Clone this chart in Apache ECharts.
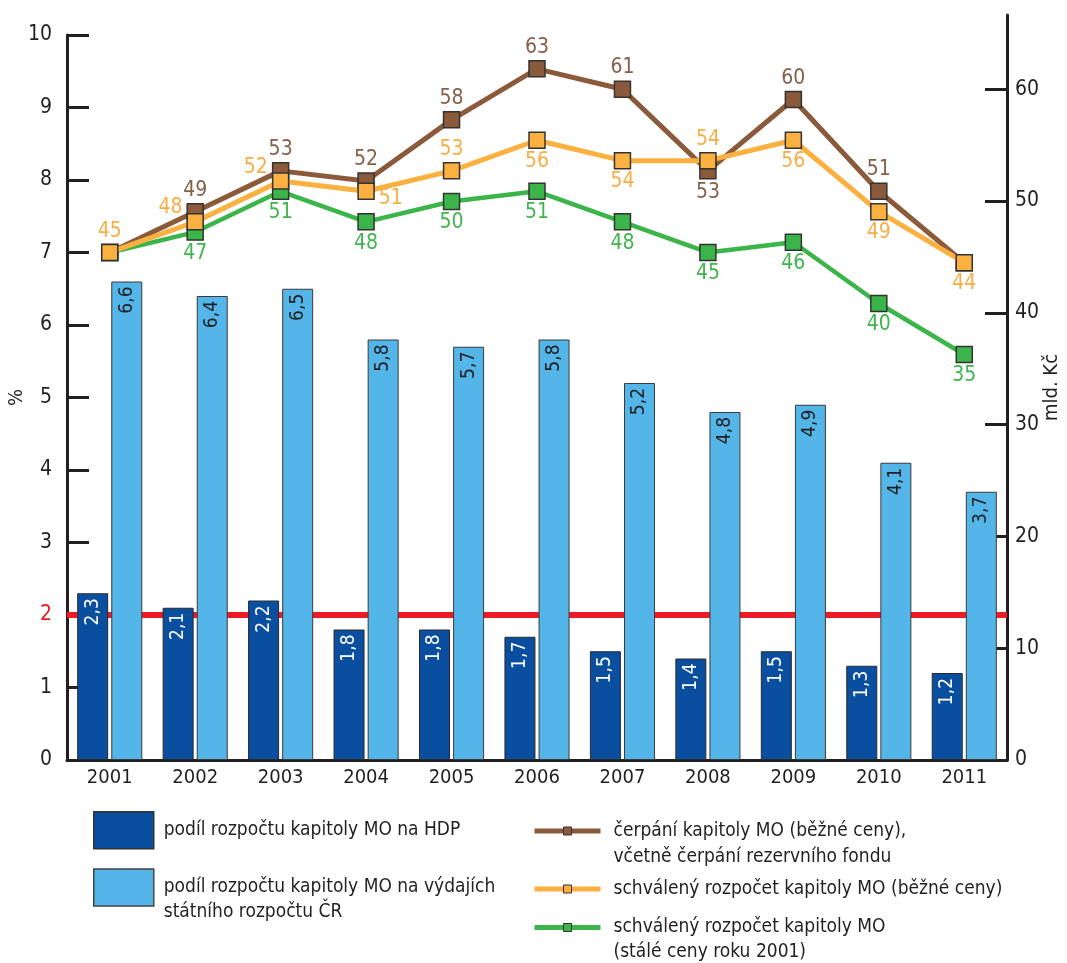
<!DOCTYPE html>
<html><head><meta charset="utf-8">
<script src="https://cdn.jsdelivr.net/npm/echarts@6/dist/echarts.min.js"></script>
<style>html,body{margin:0;padding:0;background:#fff}#c{width:1067px;height:963px}</style>
</head><body><div id="c"></div>
<script>
// ---------- data ----------
const years = ['2001','2002','2003','2004','2005','2006','2007','2008','2009','2010','2011'];
const shareGDP = [2.3, 2.1, 2.2, 1.8, 1.8, 1.7, 1.5, 1.4, 1.5, 1.3, 1.2];
const shareBudget = [6.6, 6.4, 6.5, 5.8, 5.7, 5.8, 5.2, 4.8, 4.9, 4.1, 3.7];
const spendingCurrent = [45, 49, 53, 52, 58, 63, 61, 53, 60, 51, 44];
const approvedCurrent = [45, 48, 52, 51, 53, 56, 54, 54, 56, 49, 44];
const approvedConst2001 = [45, 47, 51, 48, 50, 51, 48, 45, 46, 40, 35];
const rightTickValues = [0, 10, 20, 30, 40, 50, 60];
const referenceLevel = 2;

const nameGDP = 'podíl rozpočtu kapitoly MO na HDP';
const nameBudget = 'podíl rozpočtu kapitoly MO na výdajích\nstátního rozpočtu ČR';
const nameSpend = 'čerpání kapitoly MO (běžné ceny),\nvčetně čerpání rezervního fondu';
const nameApproved = 'schválený rozpočet kapitoly MO (běžné ceny)';
const nameConst = 'schválený rozpočet kapitoly MO\n(stálé ceny roku 2001)';

// ---------- styling ----------
const FONT = "'Liberation Sans Narrow','Arial Narrow','DejaVu Sans Condensed',sans-serif";
const INK = '#231f20';
const C_DARK = '#0a4ea0', C_LIGHT = '#53b5e8';
const C_BROWN = '#8b5a3b', C_ORANGE = '#fbb040', C_GREEN = '#3bb54a';
const L_BROWN = '#85604a', L_ORANGE = '#f9ad45', L_GREEN = '#3fb54d';

// label placement per point (null = hidden)
const brownLbl = [null,'top','top','top','top','top','top','bottom','top','top',null];
const orangeLbl = ['top','lu','lu','rd','top','bottom','bottom','top','bottom','bottom','bottom'];
const greenLbl = [null,'bottom','bottom','bottom','bottom','bottom','bottom','bottom','bottom','bottom','bottom'];

function lblCfg(p, color) {
  const base = {color: color, fontSize: 21, fontFamily: FONT};
  if (!p) return {show: false};
  if (p === 'lu') return Object.assign(base, {show: true, position: 'left', distance: 4, offset: [0, -14]});
  if (p === 'rd') return Object.assign(base, {show: true, position: 'right', distance: 4, offset: [0, 7]});
  return Object.assign(base, {show: true, position: p, distance: 2});
}
function lineSeries(name, values, pos, color, lblColor, z, width) {
  return {
    name: name, type: 'line', xAxisIndex: 0, yAxisIndex: 2, z: z,
    symbol: 'rect', symbolSize: 16,
    lineStyle: {color: color, width: width},
    itemStyle: {color: color, borderColor: '#333', borderWidth: 1.5},
    data: values.map((v, i) => ({value: v, label: lblCfg(pos[i], lblColor)}))
  };
}
const fmtComma = p => String(p.value).replace('.', ',');
// multi-line legend entries: icon aligned with first text line
const firstLineAligned = n => (n.indexOf('\n') >= 0 ? '\n' + n : n);

const chart = echarts.init(document.getElementById('c'), null, {renderer: 'canvas'});
const axisLineStyle = {color: INK, width: 3};
const legendText = lh => ({fontSize: 19, color: INK, fontFamily: FONT, lineHeight: lh});

const lineLegend = (name, top, lh) => ({
  data: [name], left: 532, top: top, padding: 0, selectedMode: false,
  itemWidth: 66, itemHeight: 10,
  lineStyle: {width: 5},
  itemStyle: {borderColor: '#333', borderWidth: 1},
  formatter: firstLineAligned,
  textStyle: Object.assign(legendText(lh), {padding: [0, 0, 0, 8]})
});

chart.setOption({
  animation: false,
  backgroundColor: '#fff',
  grid: [
    {left: 67, right: 60, top: 35, bottom: 203, outerBoundsMode: 'none', containLabel: false},
    {left: 67, right: 60, top: 15, bottom: 203, outerBoundsMode: 'none', containLabel: false}
  ],
  legend: [
    {data: [nameGDP], left: 93, top: 811, padding: 0, selectedMode: false, icon: 'rect',
     itemWidth: 60, itemHeight: 37, itemStyle: {borderColor: '#333', borderWidth: 1.5},
     textStyle: Object.assign(legendText(24), {padding: [0, 0, 0, 5]})},
    {data: [nameBudget], left: 93, top: 850, padding: 0, selectedMode: false, icon: 'rect',
     itemWidth: 60, itemHeight: 37, itemStyle: {borderColor: '#444', borderWidth: 1.5},
     formatter: firstLineAligned,
     textStyle: Object.assign(legendText(25), {padding: [0, 0, 0, 5]})},
    lineLegend(nameSpend, 792, 26),
    lineLegend(nameApproved, 876, 26),
    lineLegend(nameConst, 890, 25)
  ],
  xAxis: [
    {type: 'category', gridIndex: 0, data: years, boundaryGap: true,
     axisLine: {lineStyle: axisLineStyle},
     axisTick: {inside: true, length: 18, lineStyle: {color: INK, width: 3}},
     axisLabel: {fontSize: 20, color: INK, margin: 8, fontFamily: FONT}},
    {type: 'category', gridIndex: 1, data: years, show: false}
  ],
  yAxis: [
    {type: 'value', gridIndex: 0, min: 0, max: 10, interval: 1,
     name: '%', nameLocation: 'middle', nameGap: 40, nameRotate: 90, nameMoveOverlap: false,
     nameTextStyle: {fontSize: 20, color: INK, fontFamily: FONT},
     axisLine: {show: true, lineStyle: axisLineStyle},
     axisTick: {show: true, inside: true, length: 22, lineStyle: {color: INK, width: 3}},
     axisLabel: {margin: 15, fontSize: 21, fontFamily: FONT,
                 color: v => (Number(v) === referenceLevel ? '#ed1c24' : INK)},
     splitLine: {show: false}},
    {type: 'value', gridIndex: 1, position: 'right', min: 0, max: 66.64,
     name: 'mld. Kč', nameLocation: 'middle', nameGap: 35, nameRotate: 90, nameMoveOverlap: false,
     nameTextStyle: {fontSize: 20, color: INK, fontFamily: FONT},
     axisLine: {show: true, lineStyle: axisLineStyle},
     axisTick: {show: true, inside: true, length: 22, customValues: rightTickValues, lineStyle: {color: INK, width: 3}},
     axisLabel: {margin: 8, fontSize: 21, color: INK, fontFamily: FONT, customValues: rightTickValues},
     splitLine: {show: false}},
    {type: 'value', gridIndex: 0, min: -4.755, max: 66.32, show: false}
  ],
  series: [
    {name: nameGDP, type: 'bar', xAxisIndex: 0, yAxisIndex: 0, z: 3,
     barWidth: 31, barGap: '10%', data: shareGDP,
     itemStyle: {color: C_DARK, borderColor: '#2a2a2a', borderWidth: 1},
     label: {show: true, rotate: 90, position: 'insideTop', align: 'right', verticalAlign: 'middle',
             distance: 5, color: '#fff', fontSize: 19, fontFamily: FONT, formatter: fmtComma},
     markLine: {silent: true, symbol: 'none', z: 1, label: {show: false},
                lineStyle: {color: '#ed1c24', width: 6, type: 'solid'},
                data: [{yAxis: referenceLevel}]}},
    {name: nameBudget, type: 'bar', xAxisIndex: 0, yAxisIndex: 0, z: 3,
     barWidth: 31, data: shareBudget,
     itemStyle: {color: C_LIGHT, borderColor: '#3a3a3a', borderWidth: 1},
     label: {show: true, rotate: 90, position: 'insideTop', align: 'right', verticalAlign: 'middle',
             distance: 5, color: INK, fontSize: 19, fontFamily: FONT, formatter: fmtComma}},
    lineSeries(nameConst, approvedConst2001, greenLbl, C_GREEN, L_GREEN, 4, 4.5),
    lineSeries(nameSpend, spendingCurrent, brownLbl, C_BROWN, L_BROWN, 5, 5),
    lineSeries(nameApproved, approvedCurrent, orangeLbl, C_ORANGE, L_ORANGE, 6, 5)
  ]
});
</script>
</body></html>
